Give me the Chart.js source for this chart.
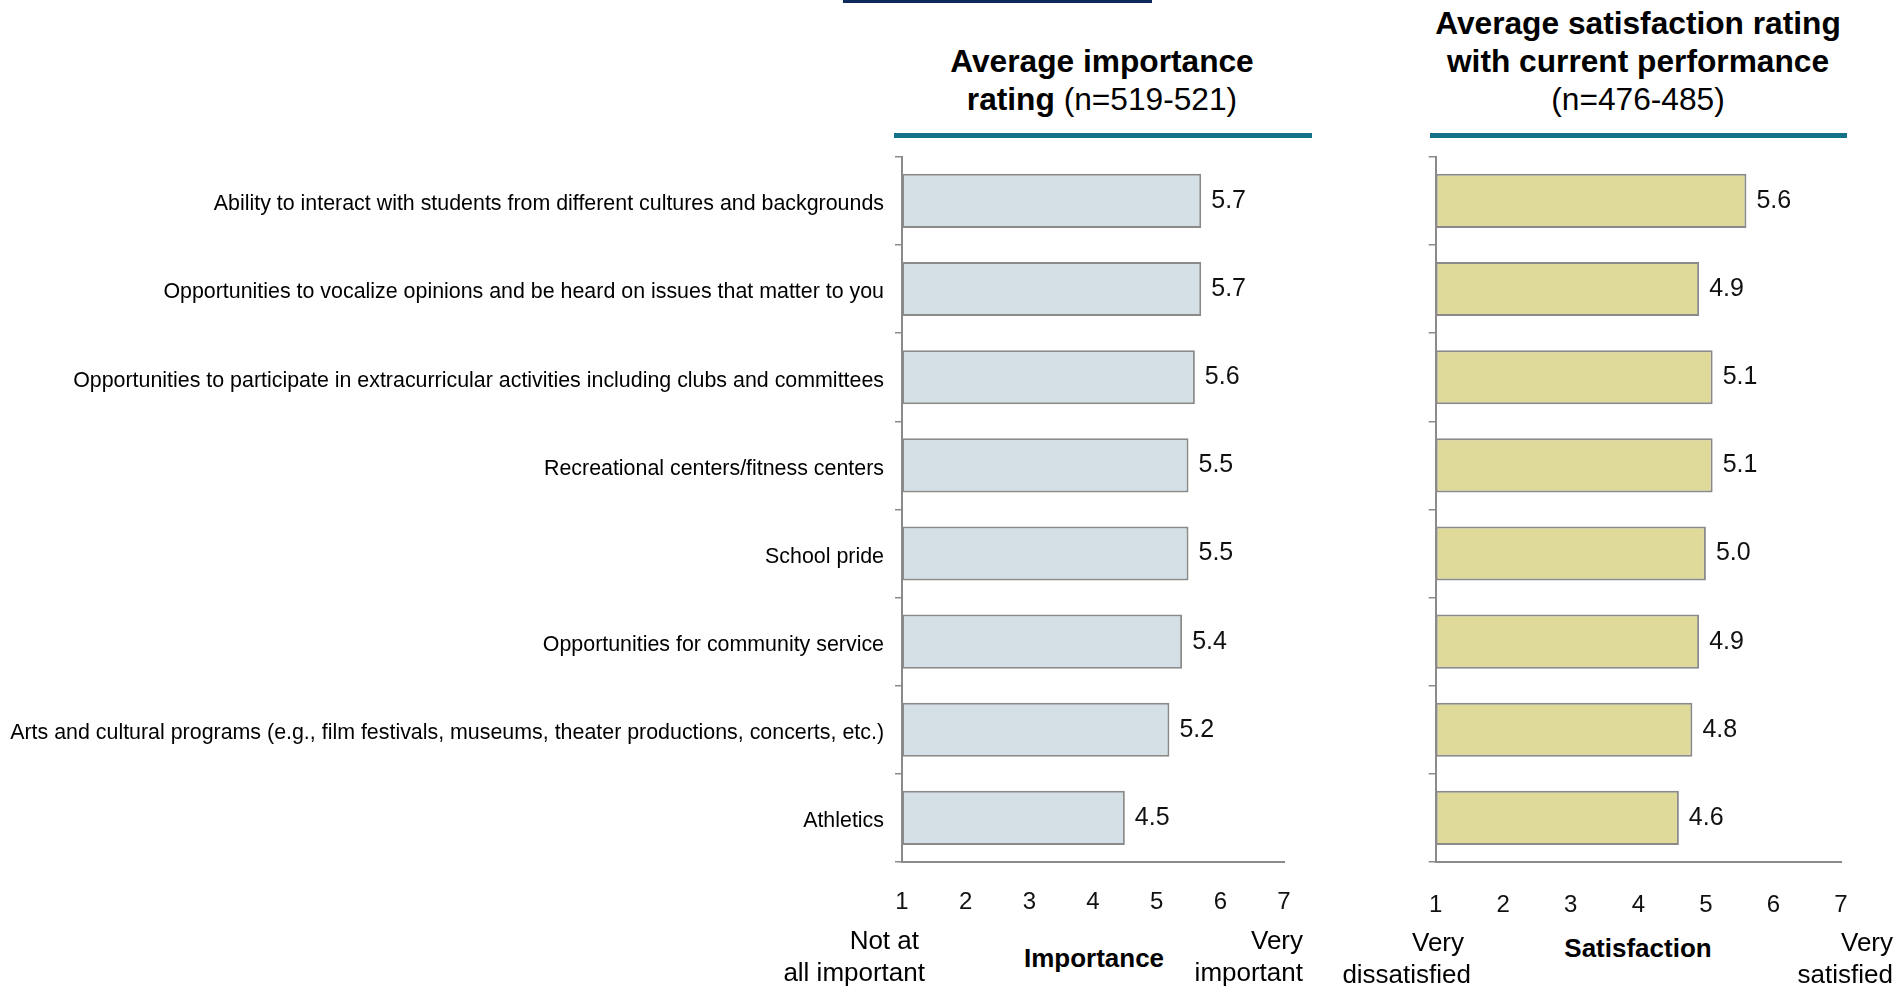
<!DOCTYPE html>
<html>
<head>
<meta charset="utf-8">
<script src="https://cdn.jsdelivr.net/npm/chart.js@4.4.1/dist/chart.umd.min.js"></script>
<style>
  body { margin: 0; width: 1898px; height: 986px; position: relative; overflow: hidden; background: #fff;
         font-family: "Liberation Sans", Arial, sans-serif; color: #000; }
  canvas { position: absolute; }
  .title { position: absolute; text-align: center; font-size: 31.7px; line-height: 38px; white-space: nowrap; }
  .title b { font-weight: bold; }
  .rule { position: absolute; height: 5px; background: #13728a; }
  .scale-note { position: absolute; font-size: 26px; line-height: 32px; white-space: nowrap; text-align: right; }
  .scale-note span { display: block; }
  .axis-name { position: absolute; font-size: 26px; font-weight: bold; white-space: nowrap; transform: translate(-50%, -50%); }
</style>
</head>
<body>

<div style="position:absolute;left:843px;top:0;width:309px;height:3px;background:#0c2a5c"></div>

<div class="title" style="left:1102px;top:42px;transform:translateX(-50%)"><b>Average importance</b><br><b>rating</b> (n=519-521)</div>
<div class="rule" style="left:894px;top:133px;width:418px"></div>

<div class="title" style="left:1638px;top:4px;transform:translateX(-50%)"><b>Average satisfaction rating</b><br><b>with current performance</b><br>(n=476-485)</div>
<div class="rule" style="left:1430px;top:133px;width:417px"></div>

<canvas id="importanceChart" width="1320" height="797" style="left:0;top:133px"></canvas>
<canvas id="satisfactionChart" width="498" height="797" style="left:1400px;top:133px"></canvas>

<div class="scale-note" style="right:973px;top:924px"><span style="margin-right:6px">Not at</span><span>all important</span></div>
<div class="axis-name" style="left:1094px;top:958px">Importance</div>
<div class="scale-note" style="right:595px;top:924px"><span>Very</span><span>important</span></div>

<div class="scale-note" style="right:427px;top:926px"><span style="margin-right:7px">Very</span><span>dissatisfied</span></div>
<div class="axis-name" style="left:1638px;top:948px">Satisfaction</div>
<div class="scale-note" style="right:5px;top:926px"><span>Very</span><span>satisfied</span></div>

<script>
// Chart data
const categories = [
    'Ability to interact with students from different cultures and backgrounds',
    'Opportunities to vocalize opinions and be heard on issues that matter to you',
    'Opportunities to participate in extracurricular activities including clubs and committees',
    'Recreational centers/fitness centers',
    'School pride',
    'Opportunities for community service',
    'Arts and cultural programs (e.g., film festivals, museums, theater productions, concerts, etc.)',
    'Athletics'
];
const importanceValues = [5.7, 5.7, 5.6, 5.5, 5.5, 5.4, 5.2, 4.5];
const satisfactionValues = [5.6, 4.9, 5.1, 5.1, 5.0, 4.9, 4.8, 4.6];
const scaleMin = 1;
const scaleMax = 7;

const FONT = '"Liberation Sans", Arial, sans-serif';
const AXIS_GREY = '#8a8a8a';

// Draws the value next to the end of each bar
const valueLabels = {
    id: 'valueLabels',
    afterDatasetsDraw(chart) {
        const ctx = chart.ctx;
        const values = chart.data.datasets[0].data;
        ctx.save();
        ctx.font = '25px ' + FONT;
        ctx.fillStyle = '#111';
        ctx.textAlign = 'left';
        ctx.textBaseline = 'middle';
        chart.getDatasetMeta(0).data.forEach((bar, i) => {
            ctx.fillText(values[i].toFixed(1), bar.x + 10, bar.y);
        });
        ctx.restore();
    }
};

/**
 * Builds one horizontal bar chart. yWidth fixes where the value axis starts.
 */
function buildChart(canvasId, values, fill, yWidth, showLabels, rightPad, tickPad) {
    return new Chart(document.getElementById(canvasId), {
        type: 'bar',
        data: {
            labels: categories,
            datasets: [{
                data: values,
                base: scaleMin,
                backgroundColor: fill,
                borderColor: AXIS_GREY,
                borderWidth: 2,
                borderSkipped: false,
                categoryPercentage: 1,
                barPercentage: 0.614
            }]
        },
        options: {
            indexAxis: 'y',
            responsive: false,
            animation: false,
            layout: { padding: { top: 18, right: rightPad, bottom: 0, left: 0 } },
            plugins: {
                legend: { display: false },
                tooltip: { enabled: false }
            },
            scales: {
                x: {
                    min: scaleMin,
                    max: scaleMax,
                    afterFit: (scale) => { scale.height = 68; },
                    ticks: {
                        stepSize: 1,
                        padding: tickPad,
                        color: '#111',
                        font: { family: FONT, size: 24 }
                    },
                    grid: { display: false, drawTicks: false },
                    border: { display: true, color: AXIS_GREY, width: 2 }
                },
                y: {
                    afterFit: (scale) => { scale.width = yWidth; },
                    ticks: {
                        padding: 11,
                        labelOffset: 3.5,
                        color: '#000',
                        font: { family: FONT, size: 21.4 },
                        callback: function(value) { return showLabels ? this.getLabelForValue(value) : ''; }
                    },
                    grid: {
                        drawOnChartArea: false,
                        drawTicks: true,
                        tickLength: 7,
                        color: AXIS_GREY,
                        lineWidth: 1.5
                    },
                    border: { display: true, color: AXIS_GREY, width: 2 }
                }
            }
        },
        plugins: [valueLabels]
    });
}

buildChart('importanceChart', importanceValues, '#d4e0e6', 902, true, 36, 26);
buildChart('satisfactionChart', satisfactionValues, '#dfd99a', 33, false, 57, 29);
</script>
</body>
</html>
